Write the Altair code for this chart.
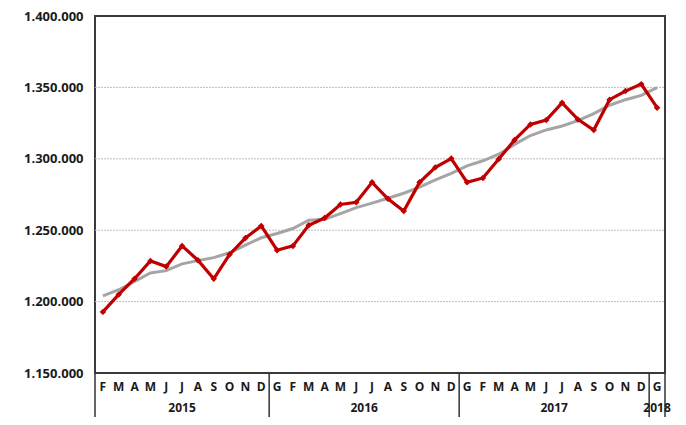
import altair as alt
import pandas as pd

# ---- data ----
month_letters = (["F", "M", "A", "M", "J", "J", "A", "S", "O", "N", "D"]
                 + ["G", "F", "M", "A", "M", "J", "J", "A", "S", "O", "N", "D"]
                 + ["G", "F", "M", "A", "M", "J", "J", "A", "S", "O", "N", "D"]
                 + ["G"])
years = ["2015"] * 11 + ["2016"] * 12 + ["2017"] * 12 + ["2018"]

series_red = [1192800, 1205000, 1216000, 1228500, 1224500, 1239000, 1229000, 1216000,
              1233000, 1244500, 1253000,
              1236000, 1239000, 1253500, 1258500, 1268000, 1269500, 1283500, 1272000,
              1263400, 1283500, 1294000, 1300200,
              1283500, 1286600, 1299800, 1313200, 1324100, 1327100, 1339200, 1327600,
              1320100, 1341400, 1347400, 1352300,
              1335800]
series_gray = [1204000, 1208300, 1214100, 1220000, 1221700, 1226400, 1228700, 1230800,
               1234200, 1239600, 1244700,
               1247700, 1251200, 1257000, 1257600, 1261600, 1265800, 1269000, 1272400,
               1275900, 1280100, 1285200, 1289800,
               1295000, 1298600, 1303200, 1310100, 1316300, 1320200, 1323000, 1326700,
               1331700, 1337500, 1341400, 1344400,
               1349800]
y_ticks = [1150000, 1200000, 1250000, 1300000, 1350000, 1400000]

# ---- tables ----
n = len(month_letters)
df = pd.DataFrame({
    "pos": [i + 0.5 for i in range(n)],
    "month": month_letters,
    "year": years,
    "red": series_red,
    "gray": series_gray,
})

groups = []
start = 0
for i in range(1, n + 1):
    if i == n or years[i] != years[start]:
        groups.append({"year": years[start], "start": start, "end": i,
                       "mid": (start + i) / 2})
        start = i
gdf = pd.DataFrame(groups)
bounds = sorted(set([g["start"] for g in groups] + [g["end"] for g in groups]))
bdf = pd.DataFrame({"b": bounds})
grid_df = pd.DataFrame({"v": y_ticks[1:-1]})

W, H = 570, 357
FONT = "Open Sans"

xscale = alt.Scale(domain=[0, n], nice=False, zero=False)
yscale = alt.Scale(domain=[y_ticks[0], y_ticks[-1]], nice=False, zero=False)

yaxis = alt.Axis(values=y_ticks, grid=False, ticks=False, domain=False,
                 labelExpr="replace(format(datum.value, ',.0f'), /,/g, '.')",
                 labelFont=FONT, labelFontSize=13, labelFontWeight="bold",
                 labelColor="#1a1a1a", labelPadding=12, title=None)

base = alt.Chart(df)

grid = alt.Chart(grid_df).mark_rule(color="#bdbdbd", strokeWidth=1, strokeDash=[2, 1]).encode(
    y=alt.Y("v:Q", scale=yscale, axis=yaxis),
    x=alt.value(0), x2=alt.value(W),
)

gray_line = base.mark_line(color="#a5a5a5", strokeWidth=3).encode(
    x=alt.X("pos:Q", scale=xscale, axis=None),
    y=alt.Y("gray:Q", scale=yscale),
)

red_line = base.mark_line(color="#c00000", strokeWidth=3.2,
                          point=alt.OverlayMarkDef(shape="diamond", size=42, filled=True,
                                                   color="#c00000")).encode(
    x=alt.X("pos:Q", scale=xscale, axis=None),
    y=alt.Y("red:Q", scale=yscale),
)

month_text = base.mark_text(font=FONT, fontSize=12, fontWeight="bold", color="#1a1a1a",
                            baseline="middle").encode(
    x=alt.X("pos:Q", scale=xscale),
    y=alt.value(H + 14),
    text="month:N",
)

year_text = alt.Chart(gdf).mark_text(font=FONT, fontSize=12, fontWeight="bold",
                                     color="#1a1a1a", baseline="middle").encode(
    x=alt.X("mid:Q", scale=xscale),
    y=alt.value(H + 35),
    text="year:N",
)

seps = alt.Chart(bdf).mark_rule(color="#333333", strokeWidth=1.5).encode(
    x=alt.X("b:Q", scale=xscale),
    y=alt.value(H), y2=alt.value(H + 44),
)

chart = alt.layer(grid, gray_line, red_line, seps, month_text, year_text).properties(
    width=W, height=H,
    autosize=alt.AutoSizeParams(type="none"),
    padding={"left": 87, "top": 8, "right": 13, "bottom": 44},
).configure(background="white").configure_view(stroke="#3a3a3a", strokeWidth=2)

chart.save("out.html", embed_options={"renderer": "svg", "actions": False})
